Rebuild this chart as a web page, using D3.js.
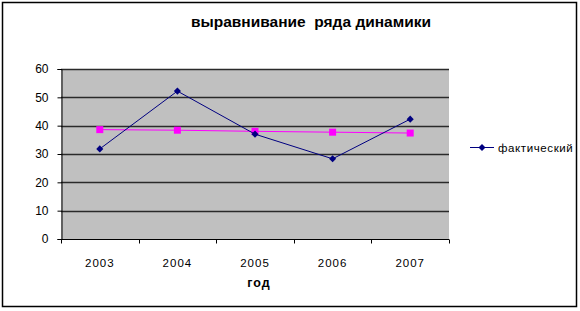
<!DOCTYPE html>
<html>
  <head>
    <meta charset="utf-8">
    <title>выравнивание ряда динамики</title>
    <script src="https://d3js.org/d3.v7.min.js"></script>
    <style>
      body { margin: 0; background: #fff; }
      text { font-family: "Liberation Sans", Arial, sans-serif; }
    </style>
  </head>
  <body>
    <div id="chart"></div>
    <script>
      // data
      const years = ["2003", "2004", "2005", "2006", "2007"];
      const actual = [31.8, 52.2, 37.0, 28.3, 42.3];
      const trend = [38.6, 38.4, 38.0, 37.7, 37.4];
      const yTicks = [0, 10, 20, 30, 40, 50, 60];

      const width = 580;
      const height = 311;
      const plot = { left: 61, right: 449, top: 69, bottom: 239 };

      const svg = d3.select("#chart")
        .append("svg")
        .attr("width", width)
        .attr("height", height);

      // outer frame
      svg.append("rect")
        .attr("x", 2.5).attr("y", 2.5)
        .attr("width", 574).attr("height", 304)
        .attr("fill", "#fff")
        .attr("stroke", "#000")
        .attr("stroke-width", 1.5);

      const x = d3.scaleBand()
        .domain(years)
        .range([plot.left, plot.right]);

      const y = d3.scaleLinear()
        .domain([0, 60])
        .range([plot.bottom, plot.top]);

      // grey plot area
      svg.append("rect")
        .attr("x", plot.left).attr("y", plot.top)
        .attr("width", plot.right - plot.left)
        .attr("height", plot.bottom - plot.top)
        .attr("fill", "#c0c0c0");

      // gridlines
      svg.append("g")
        .selectAll("line")
        .data(yTicks.filter(d => d > 0))
        .enter()
        .append("line")
        .attr("x1", plot.left).attr("x2", plot.right)
        .attr("y1", d => Math.round(y(d)) + 0.5)
        .attr("y2", d => Math.round(y(d)) + 0.5)
        .attr("stroke", "#2a2a2a")
        .attr("stroke-width", 1.3);

      // y axis
      const yAxis = svg.append("g")
        .attr("transform", `translate(${plot.left + 0.5},0)`)
        .call(d3.axisLeft(y).tickValues(yTicks).tickSize(4).tickPadding(9));
      yAxis.select(".domain").attr("stroke", "#000");
      yAxis.selectAll("text").attr("font-size", 12).attr("fill", "#000");

      // x axis: ticks between categories
      const xAxis = svg.append("g")
        .attr("transform", `translate(0,${plot.bottom + 0.5})`);
      xAxis.append("line")
        .attr("x1", plot.left).attr("x2", plot.right)
        .attr("stroke", "#000");
      xAxis.selectAll("line.tick")
        .data(years.concat(["end"]))
        .enter()
        .append("line")
        .attr("class", "tick")
        .attr("x1", (d, i) => Math.round(plot.left + i * x.step()) + 0.5)
        .attr("x2", (d, i) => Math.round(plot.left + i * x.step()) + 0.5)
        .attr("y1", 0).attr("y2", 4)
        .attr("stroke", "#000");
      xAxis.selectAll("text")
        .data(years)
        .enter()
        .append("text")
        .attr("x", d => x(d) + x.bandwidth() / 2)
        .attr("y", 27)
        .attr("text-anchor", "middle")
        .attr("font-size", 11.5)
        .attr("letter-spacing", 1)
        .text(d => d);

      // trend line (pink)
      const cx = (d, i) => x(years[i]) + x.bandwidth() / 2;
      const line = d3.line().x(cx).y(d => y(d));

      svg.append("path")
        .datum(trend)
        .attr("d", line)
        .attr("fill", "none")
        .attr("stroke", "#ff00ff")
        .attr("stroke-width", 1);
      svg.append("g")
        .selectAll("rect")
        .data(trend)
        .enter()
        .append("rect")
        .attr("x", (d, i) => cx(d, i) - 3.5)
        .attr("y", d => y(d) - 3.5)
        .attr("width", 7).attr("height", 7)
        .attr("fill", "#ff00ff");

      // actual series (navy)
      svg.append("path")
        .datum(actual)
        .attr("d", line)
        .attr("fill", "none")
        .attr("stroke", "#000080")
        .attr("stroke-width", 1);
      const diamond = d3.symbol().type(d3.symbolDiamond2).size(32);
      svg.append("g")
        .selectAll("path")
        .data(actual)
        .enter()
        .append("path")
        .attr("d", diamond)
        .attr("transform", (d, i) => `translate(${cx(d, i)},${y(d)})`)
        .attr("fill", "#000080");

      // title
      svg.append("text")
        .attr("x", 311).attr("y", 27)
        .attr("text-anchor", "middle")
        .attr("font-size", 15.5)
        .attr("font-weight", "bold")
        .attr("xml:space", "preserve")
        .text("выравнивание  ряда динамики");

      // x axis title
      svg.append("text")
        .attr("x", 259).attr("y", 287)
        .attr("text-anchor", "middle")
        .attr("font-size", 12.5)
        .attr("font-weight", "bold")
        .attr("letter-spacing", 1)
        .text("год");

      // legend
      const legend = svg.append("g").attr("transform", "translate(470,147.5)");
      legend.append("line")
        .attr("x1", 0).attr("x2", 24)
        .attr("stroke", "#000080");
      legend.append("path")
        .attr("d", diamond)
        .attr("transform", "translate(12,0)")
        .attr("fill", "#000080");
      legend.append("text")
        .attr("x", 28).attr("y", 4)
        .attr("font-size", 11.5)
        .attr("letter-spacing", 0.6)
        .text("фактический");
    </script>
  </body>
</html>
